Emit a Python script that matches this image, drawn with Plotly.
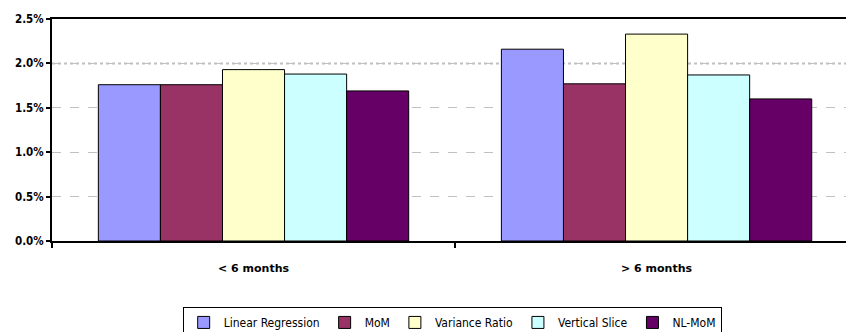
import plotly.graph_objects as go

# Holding-period buckets and estimator results (%)
categories = ["< 6 months", "> 6 months"]
series_names = ["Linear Regression", "MoM", "Variance Ratio", "Vertical Slice", "NL-MoM"]
linear_regression = [1.76, 2.16]
mom = [1.76, 1.77]
variance_ratio = [1.93, 2.33]
vertical_slice = [1.88, 1.87]
nl_mom = [1.69, 1.60]
y_ticks = [0.0, 0.5, 1.0, 1.5, 2.0, 2.5]
y_tick_labels = [f"{v:.1f}%" for v in y_ticks]

series_values = [linear_regression, mom, variance_ratio, vertical_slice, nl_mom]
colors = ["#9999FF", "#993366", "#FFFFCC", "#CCFFFF", "#660066"]

fig = go.Figure()
for name, vals, col in zip(series_names, series_values, colors):
    fig.add_trace(go.Bar(
        x=categories, y=vals, name=name,
        marker=dict(color=col, line=dict(color="black", width=1)),
    ))

# heavier dotted line at the 2.0% level
fig.add_shape(type="line", xref="paper", yref="y", x0=0, x1=1, y0=2.0, y1=2.0,
              line=dict(color="#C0C0C0", width=2, dash="dot"), layer="below")

fig.update_layout(
    width=846, height=332,
    margin=dict(l=52, r=0, t=19, b=91, autoexpand=False),
    paper_bgcolor="white", plot_bgcolor="white",
    barmode="group", bargap=0.23, bargroupgap=0,
    font=dict(family="DejaVu Sans", size=11, color="black"),
    showlegend=True,
    legend=dict(
        orientation="h", x=0.504, xanchor="center", y=-0.297, yanchor="top",
        bordercolor="black", borderwidth=1, bgcolor="white",
        font=dict(family="DejaVu Sans Condensed, DejaVu Sans", size=12, color="black"),
        itemwidth=30, tracegroupgap=0,
    ),
    xaxis=dict(
        type="category", range=[-0.5, 1.47], automargin=False,
        showline=True, linecolor="black", linewidth=2, mirror=True,
        ticks="outside", tickson="boundaries", ticklen=5, tickwidth=2, tickcolor="black",
        tickfont=dict(family="DejaVu Sans", size=11, weight="bold"),
        ticklabelstandoff=16,
        showgrid=False,
    ),
    yaxis=dict(
        range=[0, 2.5], tickvals=y_ticks, ticktext=y_tick_labels, automargin=False,
        showline=True, linecolor="black", linewidth=2,
        ticks="outside", ticklen=4, tickwidth=2, tickcolor="black",
        tickfont=dict(family="DejaVu Sans Condensed, DejaVu Sans", size=11.5, weight="bold"),
        showgrid=True, gridcolor="#C0C0C0", gridwidth=1, griddash="dash",
        zeroline=False,
    ),
)

fig.write_html("out.html")
